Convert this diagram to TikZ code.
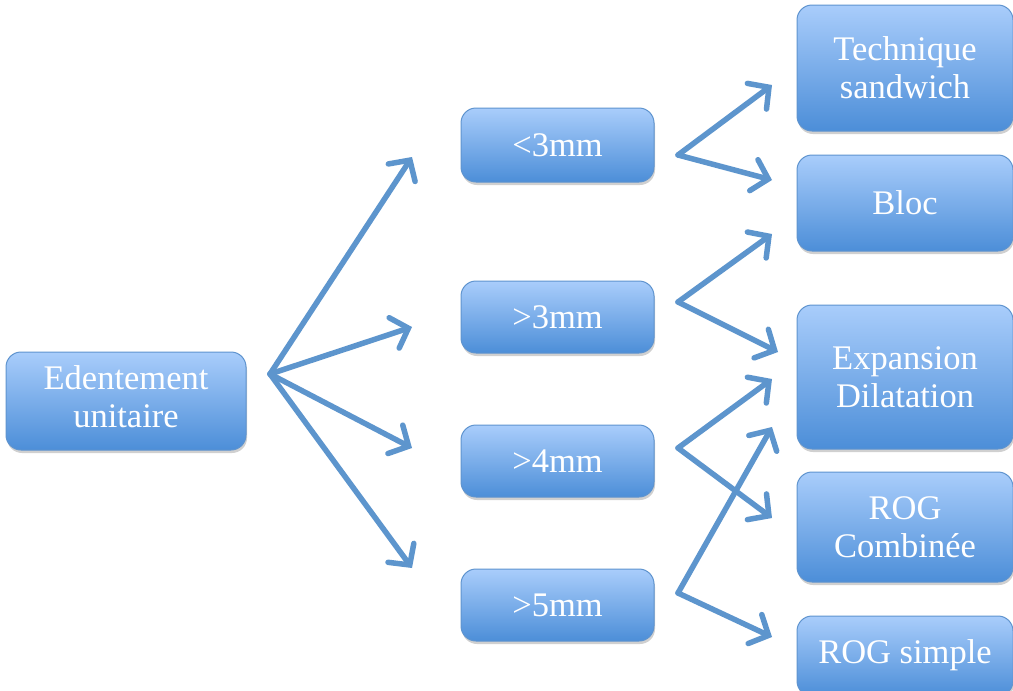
\documentclass[tikz,border=0pt]{standalone}
\usepackage{fontspec}
\setmainfont{Liberation Serif}
\usetikzlibrary{arrows.meta,shadows}
\definecolor{boxtop}{HTML}{A9CDFB}
\definecolor{boxbot}{HTML}{4C8ED8}
\definecolor{boxedge}{HTML}{5F94CF}
\definecolor{arrowc}{HTML}{5D95CD}
\tikzset{
  bbox/.style={rectangle, rounded corners=15pt, draw=boxedge, line width=1pt,
    top color=boxtop, bottom color=boxbot, text=white, align=center,
    font=\fontsize{34.5}{38}\selectfont, inner sep=0pt,
    drop shadow={shadow xshift=1pt, shadow yshift=-3pt, opacity=0.3, fill=black!60}},
  conn/.style={draw=arrowc, line width=5.5pt, line cap=round,
    -{Straight Barb[length=15pt,width=32pt,line width=5.5pt,line cap=round]}}
}
\begin{document}
\begin{tikzpicture}[x=1pt,y=-1pt]
\useasboundingbox (0,0) rectangle (1013,691);
\clip (0,0) rectangle (1013,691);
\fill[white] (0,0) rectangle (1013,691);
% left
\node[bbox, minimum width=240pt, minimum height=98pt] (ed) at (126,401) {\raisebox{-8pt}{\begin{tabular}{@{}c@{}}Edentement\\unitaire\end{tabular}}};
% middle
\node[bbox, minimum width=193pt, minimum height=74pt] (m3) at (557.5,145) {<3mm};
\node[bbox, minimum width=193pt, minimum height=72pt] (p3) at (557.5,317) {>3mm};
\node[bbox, minimum width=193pt, minimum height=72pt] (p4) at (557.5,461) {>4mm};
\node[bbox, minimum width=193pt, minimum height=72pt] (p5) at (557.5,605) {>5mm};
% right
\node[bbox, minimum width=216pt, minimum height=126pt] (ts) at (905,68) {Technique\\sandwich};
\node[bbox, minimum width=216pt, minimum height=96pt] (bl) at (905,203) {Bloc};
\node[bbox, minimum width=216pt, minimum height=144pt] (ex) at (905,377) {Expansion\\Dilatation};
\node[bbox, minimum width=216pt, minimum height=110pt] (rc) at (905,527) {ROG\\Combinée};
\node[bbox, minimum width=216pt, minimum height=80pt, text height=23pt] (rs) at (905,656) {ROG simple};
% connector coordinates
\coordinate (o1) at (270,374);
\coordinate (a1) at (412,157);
\coordinate (a2) at (412,327);
\coordinate (a3) at (412,448);
\coordinate (a4) at (412,568);
\coordinate (o2) at (678,155);
\coordinate (b1) at (772,85);
\coordinate (b2) at (772,180);
\coordinate (o3) at (678,302);
\coordinate (c1) at (772,234);
\coordinate (c2) at (778,352);
\coordinate (o4) at (678,448);
\coordinate (d1) at (772,379);
\coordinate (d2) at (772,518);
\coordinate (o5) at (678,593);
\coordinate (e1) at (772,427);
\coordinate (e2) at (772,637);
\draw[conn] (o1) -- (a1);
\draw[conn] (o1) -- (a2);
\draw[conn] (o1) -- (a3);
\draw[conn] (o1) -- (a4);
\draw[conn] (o2) -- (b1);
\draw[conn] (o2) -- (b2);
\draw[conn] (o3) -- (c1);
\draw[conn] (o3) -- (c2);
\draw[conn] (o4) -- (d1);
\draw[conn] (o4) -- (d2);
\draw[conn] (o5) -- (e1);
\draw[conn] (o5) -- (e2);
\end{tikzpicture}
\end{document}
